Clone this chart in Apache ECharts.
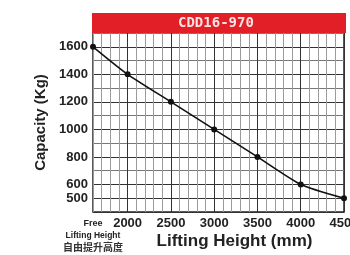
<!DOCTYPE html>
<html>
<head>
<meta charset="utf-8">
<script src="https://cdn.jsdelivr.net/npm/echarts@6/dist/echarts.min.js"></script>
<style>
  html, body { margin: 0; padding: 0; background: #fff; }
  #chart { width: 350px; height: 255px; }
</style>
</head>
<body>
<div id="chart"></div>
<script>
// lifting height (mm), 1600 = free lifting height
const liftHeights = [1600, 2000, 2500, 3000, 3500, 4000, 4500];
// capacity (kg)
const capacities = [1600, 1400, 1200, 1000, 800, 600, 500];
const yTickLabels = [500, 600, 800, 1000, 1200, 1400, 1600];
const xTickLabels = [2000, 2500, 3000, 3500, 4000, 4500];
const modelName = 'CDD16-970';

const chart = echarts.init(document.getElementById('chart'));

const option = {
  animation: false,
  backgroundColor: '#fff',
  grid: {
    left: 93,
    right: 6,
    top: 33,
    bottom: 43,
    containLabel: false,
    outerBoundsMode: 'none',
    show: true,
    borderColor: '#222',
    borderWidth: 1.5
  },
  graphic: [
    {
      type: 'rect',
      left: 92,
      top: 13,
      shape: {width: 254, height: 20},
      style: {fill: '#e21f26'}
    },
    {
      type: 'text',
      left: 178,
      top: 16,
      style: {
        text: modelName,
        fill: '#f7e4e4',
        font: 'bold 14px "DejaVu Sans Mono"'
      }
    }
  ],
  xAxis: {
    type: 'value',
    min: 1600,
    max: 4500,
    interval: 100,
    name: 'Lifting Height (mm)',
    nameLocation: 'middle',
    nameGap: 21,
    nameMoveOverlap: false,
    nameTextStyle: {
      color: '#222',
      fontSize: 17,
      fontWeight: 'bold',
      fontFamily: 'Liberation Sans',
      padding: [0, 0, 0, 32]
    },
    axisLine: {show: false},
    axisTick: {show: false},
    axisLabel: {
      margin: 5,
      color: '#222',
      fontSize: 13,
      fontWeight: 'bold',
      fontFamily: 'Liberation Sans',
      showMaxLabel: true,
      hideOverlap: false,
      formatter: function (v) {
        if (v === 1600) return '{free|Free}\n{lh|Lifting Height}\n{cn|自由提升高度}';
        return xTickLabels.indexOf(v) >= 0 ? String(v) : '';
      },
      rich: {
        free: {fontSize: 9, fontWeight: 'bold', color: '#222', lineHeight: 14, fontFamily: 'Liberation Sans'},
        lh: {fontSize: 8.5, fontWeight: 'bold', color: '#222', lineHeight: 10, fontFamily: 'Liberation Sans'},
        cn: {fontSize: 10, color: '#333', lineHeight: 13, fontFamily: 'Noto Sans CJK SC'}
      }
    },
    splitLine: {
      show: true,
      lineStyle: {
        width: 1,
        color: ['#9a9a9a', '#9a9a9a', '#9a9a9a', '#9a9a9a', '#333']
      }
    }
  },
  yAxis: {
    type: 'value',
    min: 400,
    max: 1700,
    interval: 100,
    name: 'Capacity (Kg)',
    nameLocation: 'middle',
    nameGap: 45,
    nameMoveOverlap: false,
    nameTextStyle: {
      color: '#222',
      fontSize: 15,
      fontWeight: 'bold',
      fontFamily: 'Liberation Sans'
    },
    axisLine: {show: false},
    axisTick: {show: false},
    axisLabel: {
      margin: 5,
      color: '#222',
      fontSize: 13,
      fontWeight: 'bold',
      fontFamily: 'Liberation Sans',
      formatter: function (v) {
        return yTickLabels.indexOf(v) >= 0 ? String(v) : '';
      }
    },
    splitLine: {
      show: true,
      lineStyle: {
        width: 1,
        color: ['#333', '#333', '#333', '#777', '#333', '#777', '#333',
                '#777', '#333', '#777', '#333', '#777', '#333', '#777']
      }
    }
  },
  series: [{
    type: 'line',
    data: liftHeights.map((h, i) => [h, capacities[i]]),
    smooth: 0.2,
    symbol: 'circle',
    symbolSize: 6,
    lineStyle: {color: '#111', width: 1.6},
    itemStyle: {color: '#111'}
  }]
};

chart.setOption(option);
</script>
</body>
</html>
